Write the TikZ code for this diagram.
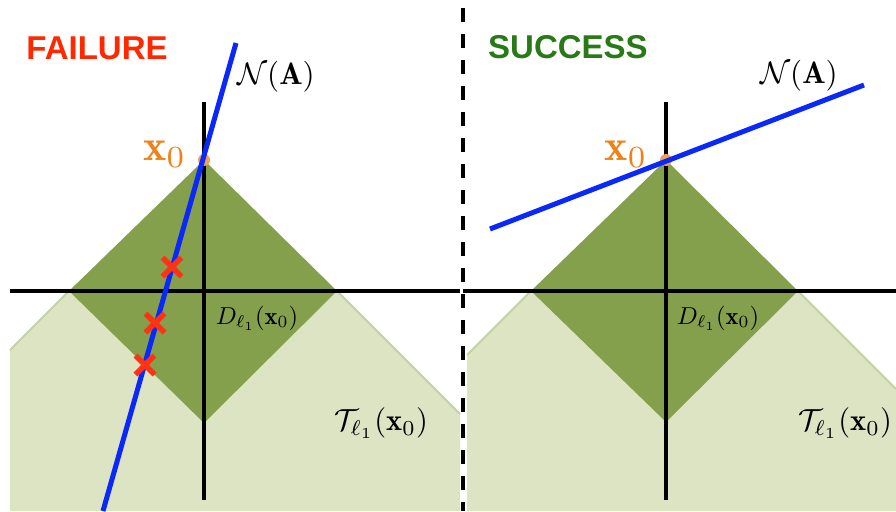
\documentclass[tikz,border=0pt]{standalone}
\usepackage{fontspec}
\usepackage{amsmath,amssymb}
\newfontfamily\headfont{Liberation Sans}
\definecolor{dkgreen}{RGB}{132,160,76}
\definecolor{ltgreen}{RGB}{220,228,196}
\definecolor{edgegreen}{RGB}{196,210,162}
\definecolor{nullblue}{RGB}{10,40,250}
\definecolor{crossred}{RGB}{255,50,20}
\definecolor{failred}{RGB}{255,40,0}
\definecolor{succgreen}{RGB}{40,122,22}
\definecolor{xorange}{RGB}{240,128,24}
\definecolor{dotorange}{RGB}{240,160,80}
\tikzset{
  axisline/.style={line width=3.2pt, black},
  nullline/.style={line width=5pt, nullblue},
  crossmark/.style={line width=5.5pt, crossred},
  ballfill/.style={fill=dkgreen},
  bigtitle/.style={font=\headfont\bfseries\fontsize{33}{36}\selectfont, inner sep=0pt},
  lab/.style={inner sep=0pt},
}
\begin{document}
\begin{tikzpicture}[x=1pt,y=-1pt]
\useasboundingbox (0,0) rectangle (896,511);
% ---------- LEFT PANEL ----------
\fill[ltgreen] (10,350) -- (69,291) -- (337,291) -- (460,414) -- (460,511) -- (10,511) -- cycle;
\draw[edgegreen, line width=2pt] (10,350) -- (69,291);
\draw[edgegreen, line width=2pt] (337,291) -- (460,414);
\fill[ballfill] (204,160) -- (337,291) -- (204,423) -- (69,291) -- cycle;
\coordinate (LvT) at (204,102);
\coordinate (LvB) at (204,500);
\coordinate (LhL) at (10,291);
\coordinate (LhR) at (460,291);
\draw[axisline] (LvT) -- (LvB);
\draw[axisline] (LhL) -- (LhR);
\coordinate (Lx0) at (204,160);
\fill[dotorange] (Lx0) circle (6);
\coordinate (LnT) at (236,43);
\coordinate (LnB) at (103,511);
\draw[nullline] (LnT) -- (LnB);
\foreach \cx/\cy in {172/267, 155/323, 145/365}{
  \draw[crossmark] (\cx-9.5,\cy-9.5) -- (\cx+9.5,\cy+9.5);
  \draw[crossmark] (\cx-9.5,\cy+9.5) -- (\cx+9.5,\cy-9.5);
}
\node[bigtitle, text=failred] (fail) at (97,48) {FAILURE};
\node[lab, scale=3.1] (LN) at (276,77) {$\mathcal{N}(\mathbf{A})$};
\node[lab, scale=4.4, text=xorange] (Lx) at (165,154) {$\mathbf{x}_0$};
\node[lab, scale=2.45] (LD) at (257,318) {$D_{\ell_1}(\mathbf{x}_0)$};
\node[lab, scale=3.05] (LT) at (381,423) {$\mathcal{T}_{\ell_1}(\mathbf{x}_0)$};
% ---------- DIVIDER ----------
\coordinate (dT) at (463,8);
\coordinate (dB) at (463,511);
\draw[line width=4pt, dash pattern=on 14pt off 12pt] (dT) -- (dB);
% ---------- RIGHT PANEL ----------
\fill[ltgreen] (467,355) -- (531,291) -- (798,291) -- (896,389) -- (896,511) -- (467,511) -- cycle;
\draw[edgegreen, line width=2pt] (467,355) -- (531,291);
\draw[edgegreen, line width=2pt] (798,291) -- (896,389);
\fill[ballfill] (666,160) -- (798,291) -- (666,422) -- (531,291) -- cycle;
\coordinate (RvT) at (666,102);
\coordinate (RvB) at (666,500);
\coordinate (RhL) at (463,291);
\coordinate (RhR) at (896,291);
\draw[axisline] (RvT) -- (RvB);
\draw[axisline] (RhL) -- (RhR);
\coordinate (Rx0) at (666,160);
\fill[dotorange] (Rx0) circle (6);
\coordinate (RnL) at (490,229);
\coordinate (RnR) at (864,85);
\draw[nullline] (RnL) -- (RnR);
\node[bigtitle, text=succgreen] (succ) at (568,47) {SUCCESS};
\node[lab, scale=3.1] (RN) at (799,76) {$\mathcal{N}(\mathbf{A})$};
\node[lab, scale=4.4, text=xorange] (Rx) at (626,154) {$\mathbf{x}_0$};
\node[lab, scale=2.45] (RD) at (718,318) {$D_{\ell_1}(\mathbf{x}_0)$};
\node[lab, scale=3.05] (RT) at (845,423) {$\mathcal{T}_{\ell_1}(\mathbf{x}_0)$};
\end{tikzpicture}
\end{document}
